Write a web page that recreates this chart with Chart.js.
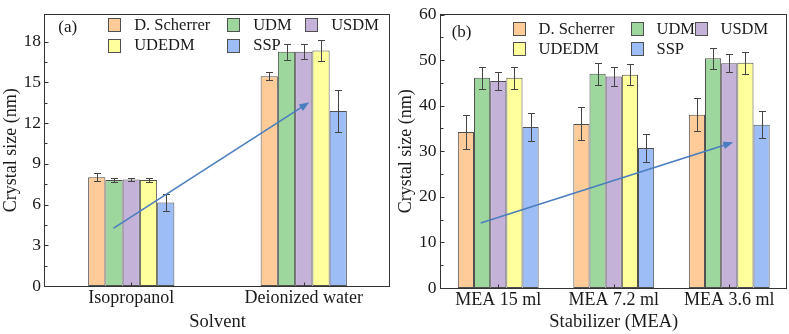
<!DOCTYPE html>
<html>
<head>
<meta charset="utf-8">
<script src="https://cdn.jsdelivr.net/npm/chart.js@4/dist/chart.umd.min.js"></script>
<style>
  html, body { margin: 0; padding: 0; background: #ffffff; }
  #wrap { position: relative; width: 789px; height: 334px; overflow: hidden; }
  canvas { position: absolute; top: 0; }
  #ca { left: 0; }
  #cb { left: 395px; }
</style>
</head>
<body>
<div id="wrap">
  <canvas id="ca" width="395" height="334"></canvas>
  <canvas id="cb" width="394" height="334"></canvas>
</div>
<script>
// ---------- DATA ----------
const seriesNames = ['D. Scherrer', 'UDM', 'USDM', 'UDEDM', 'SSP'];

// Panel (a): solvent
const catsA = ['Isopropanol', 'Deionized water'];
const scherrerA = [8.02, 15.45];
const udmA = [7.8, 17.25];
const usdmA = [7.85, 17.25];
const udedmA = [7.8, 17.35];
const sspA = [6.15, 12.9];
const scherrerErrA = [0.28, 0.3];
const udmErrA = [0.13, 0.6];
const usdmErrA = [0.13, 0.55];
const udedmErrA = [0.12, 0.75];
const sspErrA = [0.62, 1.55];
const yTicksA = [0, 3, 6, 9, 12, 15, 18];
const arrowAX = [-0.104, 1.032];
const arrowAY = [4.25, 13.53];

// Panel (b): stabilizer
const catsB = ['MEA 15 ml', 'MEA 7.2 ml', 'MEA 3.6 ml'];
const scherrerB = [34.2, 36.0, 38.0];
const udmB = [46.1, 47.0, 50.4];
const usdmB = [45.4, 46.4, 49.3];
const udedmB = [46.1, 46.8, 49.4];
const sspB = [35.3, 30.7, 35.8];
const scherrerErrB = [3.7, 3.6, 3.6];
const udmErrB = [2.4, 2.4, 2.3];
const usdmErrB = [2.0, 2.0, 2.0];
const udedmErrB = [2.4, 2.3, 2.4];
const sspErrB = [3.1, 3.1, 3.0];
const yTicksB = [0, 10, 20, 30, 40, 50, 60];
const arrowBX = [-0.152, 2.035];
const arrowBY = [14.27, 31.97];

// ---------- STYLE ----------
const fills = ['#FFCC99', '#9DD79D', '#C4B2D8', '#FFFF9C', '#9CBDF6'];
const edge = '#505050';
const ink = '#1a1a1a';
const serif = "'Liberation Serif', 'Times New Roman', serif";

const decoPlugin = {
  id: 'deco',
  afterDatasetsDraw(chart, args, o) {
    const ctx = chart.ctx, ca = chart.chartArea;
    const xs = chart.scales.x, ys = chart.scales.y;
    ctx.save();
    // error bars
    ctx.strokeStyle = '#444444';
    ctx.lineWidth = 1;
    chart.data.datasets.forEach((ds, i) => {
      const meta = chart.getDatasetMeta(i);
      meta.data.forEach((bar, j) => {
        const v = ds.data[j], e = ds.errors[j];
        const yt = Math.round(ys.getPixelForValue(v + e)) + 0.5;
        const yb = Math.round(ys.getPixelForValue(v - e)) + 0.5;
        const x = Math.round(bar.x) + 0.5;
        ctx.beginPath();
        ctx.moveTo(x, yt); ctx.lineTo(x, yb);
        ctx.moveTo(x - 3.5, yt); ctx.lineTo(x + 3.5, yt);
        ctx.moveTo(x - 3.5, yb); ctx.lineTo(x + 3.5, yb);
        ctx.stroke();
      });
    });
    // arrow
    const x0 = xs.getPixelForValue(o.ax[0]), y0 = ys.getPixelForValue(o.ay[0]);
    const x1 = xs.getPixelForValue(o.ax[1]), y1 = ys.getPixelForValue(o.ay[1]);
    const ang = Math.atan2(y1 - y0, x1 - x0);
    const hl = 10, hw = 3.8;
    ctx.strokeStyle = '#4A7EBF';
    ctx.fillStyle = '#4A7EBF';
    ctx.lineWidth = 1.6;
    ctx.beginPath();
    ctx.moveTo(x0, y0);
    ctx.lineTo(x1 - Math.cos(ang) * hl * 0.8, y1 - Math.sin(ang) * hl * 0.8);
    ctx.stroke();
    ctx.beginPath();
    ctx.moveTo(x1, y1);
    ctx.lineTo(x1 - Math.cos(ang) * hl + Math.sin(ang) * hw, y1 - Math.sin(ang) * hl - Math.cos(ang) * hw);
    ctx.lineTo(x1 - Math.cos(ang) * hl - Math.sin(ang) * hw, y1 - Math.sin(ang) * hl + Math.cos(ang) * hw);
    ctx.closePath();
    ctx.fill();
    // frame
    ctx.strokeStyle = '#333333';
    ctx.lineWidth = 1;
    const L = Math.round(ca.left) - 0.5, R = Math.round(ca.right) - 0.5;
    const T = Math.round(ca.top) - 0.5, B = Math.round(ca.bottom) + 0.5;
    ctx.strokeRect(L, T, R - L, B - T);
    // y ticks (inward), major + minor
    const yt = o.yticks;
    ctx.beginPath();
    yt.forEach((v, k) => {
      const py = Math.round(ys.getPixelForValue(v)) + 0.5;
      ctx.moveTo(L, py); ctx.lineTo(L + 4, py);
      if (k < yt.length - 1) {
        const pm = Math.round(ys.getPixelForValue((v + yt[k + 1]) / 2)) + 0.5;
        ctx.moveTo(L, pm); ctx.lineTo(L + 3, pm);
      }
    });
    // x ticks (inward) at categories
    chart.data.labels.forEach((lab, k) => {
      const px = Math.round(xs.getPixelForValue(k)) + 0.5;
      ctx.moveTo(px, B); ctx.lineTo(px, B - 4);
    });
    ctx.stroke();
    // legend
    ctx.font = '16.5px ' + serif;
    ctx.textBaseline = 'middle';
    ctx.textAlign = 'left';
    chart.data.datasets.forEach((ds, i) => {
      const row = i < 3 ? 0 : 1;
      const col = i < 3 ? i : i - 3;
      const bx = Math.round(ca.left + o.lx + o.cols[col]) + 0.5;
      const cy = ca.top + o.rows[row];
      const by = Math.round(cy - 6.5) + 0.5;
      ctx.fillStyle = ds.backgroundColor;
      ctx.fillRect(bx, by, 12, 13);
      ctx.strokeStyle = edge;
      ctx.strokeRect(bx, by, 12, 13);
      ctx.fillStyle = ink;
      ctx.fillText(ds.label, bx + o.tx, cy + 1);
    });
    // panel label
    ctx.font = '17px ' + serif;
    ctx.fillText(o.tag, ca.left + o.tagX, ca.top + o.tagY);
    ctx.restore();
  }
};

function mkDatasets(vals, errs) {
  return seriesNames.map((n, i) => ({
    label: n,
    data: vals[i],
    errors: errs[i],
    backgroundColor: fills[i],
    borderColor: edge,
    borderWidth: 1,
    borderSkipped: false,
    barPercentage: 1.0
  }));
}

function mkChart(id, cfg) {
  return new Chart(document.getElementById(id), {
    type: 'bar',
    data: { labels: cfg.labels, datasets: cfg.datasets },
    options: {
      responsive: false,
      animation: false,
      devicePixelRatio: 1,
      layout: { padding: { top: 7, right: cfg.padRight, left: 0, bottom: 0 } },
      datasets: { bar: { categoryPercentage: cfg.catPct, barPercentage: 1.0 } },
      plugins: {
        legend: { display: false },
        tooltip: { enabled: false },
        deco: cfg.deco
      },
      scales: {
        x: {
          type: 'category',
          offset: true,
          grid: { display: false, drawTicks: false },
          border: { display: false },
          ticks: { font: { family: serif, size: 18 }, color: ink, padding: 1, maxRotation: 0 },
          title: { display: true, text: cfg.xTitle, font: { family: serif, size: 18.5 }, color: ink, padding: { top: 0, bottom: 1 } },
          afterFit(s) { s.height = cfg.xH; }
        },
        y: {
          min: 0,
          max: cfg.yMax,
          grid: { display: false, drawTicks: false },
          border: { display: false },
          ticks: { font: { family: serif, size: 17.5 }, color: ink, padding: 4 },
          afterBuildTicks(s) { s.ticks = cfg.yticks.map(v => ({ value: v })); },
          title: { display: true, text: 'Crystal size (nm)', font: { family: serif, size: 18 }, color: ink, padding: { top: 0, bottom: 0 } },
          afterFit(s) { s.width = cfg.yW; }
        }
      }
    },
    plugins: [decoPlugin]
  });
}

mkChart('ca', {
  labels: catsA,
  datasets: mkDatasets([scherrerA, udmA, usdmA, udedmA, sspA],
                       [scherrerErrA, udmErrA, usdmErrA, udedmErrA, sspErrA]),
  catPct: 0.5,
  padRight: 5,
  xH: 48,
  yW: 45,
  yMax: 20,
  yticks: yTicksA,
  xTitle: 'Solvent',
  deco: { ax: arrowAX, ay: arrowAY, yticks: yTicksA, lx: 63.3, cols: [0, 119, 196.7], rows: [10.3, 30.5], tx: 25.7, tag: '(a)', tagX: 13.3, tagY: 13 }
});

mkChart('cb', {
  labels: catsB,
  datasets: mkDatasets([scherrerB, udmB, usdmB, udedmB, sspB],
                       [scherrerErrB, udmErrB, usdmErrB, udedmErrB, sspErrB]),
  catPct: 0.7,
  padRight: 2,
  xH: 46,
  yW: 45.5,
  yMax: 60,
  yticks: yTicksB,
  xTitle: 'Stabilizer (MEA)',
  deco: { ax: arrowBX, ay: arrowBY, yticks: yTicksB, lx: 72.2, cols: [0, 118, 182.3], rows: [14.4, 34.2], tx: 25, tag: '(b)', tagX: 11.2, tagY: 17.7 }
});
</script>
</body>
</html>
